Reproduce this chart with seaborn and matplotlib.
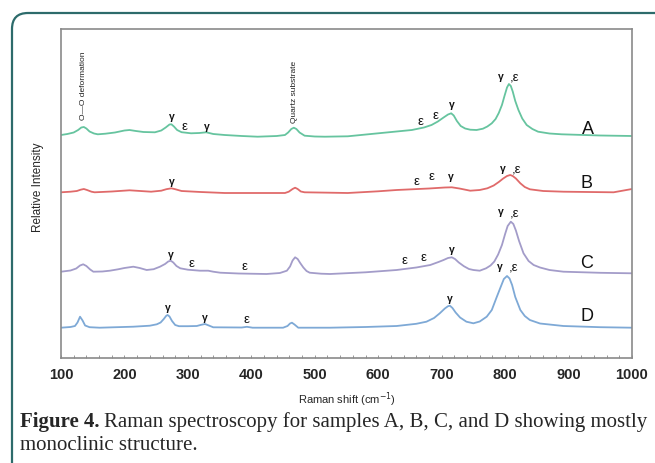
import pandas as pd
import seaborn as sns
import matplotlib.pyplot as plt
from matplotlib.patches import FancyBboxPatch
from matplotlib.ticker import MultipleLocator
from matplotlib.transforms import IdentityTransform

# spectra: (Raman shift cm-1, stacked relative intensity a.u.)
spec_a = [(100, 223), (110, 224), (120, 225.5), (127, 228), (132, 230.5), (136, 231), (140, 229.5), (145, 226.5),
          (152, 224.5), (158, 223.7), (170, 224.3), (185, 225.5), (200, 227.5), (208, 228), (218, 227), (230, 226),
          (248, 225.7), (258, 227.5), (265, 230.5), (271, 233.5), (274, 233.7), (278, 231.5), (283, 228), (290, 225.8),
          (305, 224.7), (318, 225), (329, 225.7), (340, 224), (358, 223), (385, 222), (410, 221.3), (440, 222),
          (453, 223), (458, 225.5), (463, 229), (467, 230.3), (471, 229), (476, 225.5), (484, 222.3), (500, 221.5),
          (516, 221.3), (552, 221.7), (600, 224.7), (653, 228), (672, 230.5), (684, 233), (694, 236.5), (703, 240.5),
          (710, 243.5), (715, 244.7), (719, 242.5), (724, 237), (730, 232), (737, 229.5), (745, 228.3), (755, 228),
          (765, 229.3), (772, 231.5), (779, 234.7), (785, 239), (790, 245), (795, 253), (799, 262), (803, 270.5),
          (806, 274), (809, 272), (812, 266.5), (816, 257), (821, 248), (827, 239.5), (834, 233), (843, 229),
          (852, 226.3), (870, 224.5), (889, 223.7), (950, 222.5), (1000, 222)]
spec_b = [(100, 165.7), (115, 166.3), (125, 167), (131, 168.3), (136, 169), (141, 168), (148, 166.3), (153, 165.7),
          (180, 166.5), (208, 167.7), (242, 166.3), (258, 167.3), (266, 168.8), (274, 169.7), (280, 168.8), (290, 167),
          (320, 166), (358, 165), (420, 165), (453, 165), (459, 166.3), (465, 169), (469, 170.3), (473, 169),
          (478, 166.5), (484, 165.7), (524, 165.3), (552, 165), (600, 166.7), (629, 168), (680, 169.5), (705, 170.5),
          (716, 170.7), (728, 169.5), (745, 167.3), (760, 168), (772, 169.7), (782, 172.5), (790, 176), (797, 179.5),
          (803, 182), (808, 183), (812, 182), (817, 179.5), (824, 174.7), (831, 171), (839, 168.7), (860, 167),
          (892, 166.3), (971, 165.7), (1000, 169)]
spec_c = [(100, 86.3), (115, 87.5), (124, 89.5), (130, 92.5), (135, 93.7), (140, 92), (146, 88.5), (151, 86.3),
          (165, 86.5), (177, 87.3), (190, 88.7), (200, 90), (214, 91.3), (224, 90), (235, 88), (246, 88.8),
          (256, 91.3), (264, 94), (269, 96.5), (273, 97.3), (277, 95.5), (282, 92), (288, 89.7), (300, 88.3),
          (319, 87.3), (332, 87.3), (340, 86.3), (351, 85.3), (380, 84.5), (424, 84), (445, 85), (456, 87.3),
          (461, 91.5), (465, 97.5), (469, 100.7), (473, 99), (477, 95), (482, 90.5), (487, 87), (492, 85.3),
          (510, 84.3), (524, 84), (580, 85.7), (629, 88), (660, 90.5), (682, 93), (695, 96), (703, 98), (710, 100),
          (716, 100.7), (721, 99), (727, 95.5), (735, 91.8), (743, 89), (750, 88), (760, 87.3), (770, 89.7),
          (777, 92.5), (783, 96.5), (789, 103.5), (795, 113), (800, 124), (804, 132), (809, 136.3), (813, 134),
          (817, 127.5), (822, 117), (829, 104.7), (837, 97), (845, 93), (855, 90.5), (870, 88), (892, 86.3),
          (950, 85.2), (1000, 84.7)]
spec_d = [(100, 30.3), (115, 31), (122, 32), (126, 35.5), (130, 41.3), (134, 37.5), (138, 32.5), (145, 30.8),
          (161, 30.3), (214, 31.3), (240, 32.3), (251, 33.7), (257, 35.5), (262, 39), (266, 42.3), (268, 43),
          (271, 41.5), (275, 37), (280, 33), (286, 31.8), (300, 31.8), (314, 32), (321, 33.2), (327, 34), (333, 32.5),
          (340, 30.7), (385, 30.5), (393, 31.2), (402, 30.3), (450, 30.3), (457, 32), (461, 34.5), (464, 35.3),
          (468, 33.5), (474, 30.3), (524, 30.3), (580, 31), (629, 32), (660, 34.2), (676, 36.3), (688, 40),
          (697, 44.7), (705, 49.5), (710, 51.8), (713, 52.3), (717, 50), (722, 45.5), (729, 40.5), (739, 36.3),
          (750, 34.7), (760, 36.5), (771, 41.3), (779, 48), (787, 61.3), (793, 71), (798, 79), (803, 82),
          (807, 79.5), (811, 73), (816, 61), (824, 48), (831, 42), (839, 38), (855, 34.5), (892, 32), (950, 30.8),
          (1000, 30.3)]

samples = ["A", "B", "C", "D"]
colors = ["#66c49f", "#e06a6a", "#a39cc9", "#7ea9d6"]

# peak labels: x, y
gamma_x = [274, 330, 716, 794, 274, 714, 797, 273, 716, 794, 269, 327, 713, 792]
gamma_y = [241, 231, 253, 281, 175.7, 181.3, 189, 103, 108, 146, 49.7, 39.7, 58.7, 91]
eps_x = [295, 666, 691, 815, 660, 684, 818, 306, 390, 641, 671, 815, 393, 813]
eps_y = [231, 236.3, 242, 280, 176.3, 181.3, 188.5, 94, 91.3, 97.3, 99.7, 145, 38, 90]
sample_label_x = [931, 929, 929, 929]
sample_label_y = [228, 174.7, 94, 41.3]

df = pd.concat([
    pd.DataFrame({"shift": [p[0] for p in spec], "intensity": [p[1] for p in spec], "sample": s})
    for spec, s in zip([spec_a, spec_b, spec_c, spec_d], samples)
])

sns.set_style("white")
plt.rcParams["font.family"] = ["Liberation Sans", "DejaVu Sans"]

fig = plt.figure(figsize=(6.55, 4.63), dpi=100)
ax = fig.add_axes([61 / 655, 1 - 358 / 463, 571 / 655, 329 / 463])

sns.lineplot(data=df, x="shift", y="intensity", hue="sample", palette=colors,
             estimator=None, sort=False, linewidth=1.3, legend=False, ax=ax)

ax.set_xlim(100, 1000)
ax.set_ylim(0, 329)
ax.set_yticks([])
ax.set_ylabel("Relative Intensity", fontsize=8.5)
ax.yaxis.set_label_coords(-0.03, 0.52)
ax.set_xlabel("Raman shift (cm$^{-1}$)", fontsize=8, labelpad=6)
ax.xaxis.set_major_locator(MultipleLocator(100))
ax.xaxis.set_minor_locator(MultipleLocator(20))
ax.tick_params(axis="x", which="both", direction="in", length=2.5, width=0.6,
               color="#888888", labelsize=10.5, pad=7, bottom=True)
for lbl in ax.get_xticklabels():
    lbl.set_fontweight("bold")
for sp in ax.spines.values():
    sp.set_color("#8a8a8a")
    sp.set_linewidth(1.2)

for x, y in zip(gamma_x, gamma_y):
    ax.text(x, y, "\u03b3", fontsize=7.5, fontweight="bold", ha="center", va="center", color="#111111")
for x, y in zip(eps_x, eps_y):
    # the ε that follows a γ at the main band carries a comma
    txt = ",\u03b5" if x > 790 else "\u03b5"
    ax.text(x, y, txt, fontsize=9.5, ha="center", va="center", color="#111111")
for s, x, y in zip(samples, sample_label_x, sample_label_y):
    ax.text(x, y, s, fontsize=13, ha="center", va="center", color="#111111")

ax.text(136, 238, "O\u2014O deformation", rotation=90, fontsize=6, ha="center", va="bottom", color="#222222")
ax.text(468, 235, "Quartz substrate", rotation=90, fontsize=6, ha="center", va="bottom", color="#222222")

# rounded frame of the figure panel
frame = FancyBboxPatch((12, -60), 720, 60 + 463 - 13, boxstyle="round,pad=0,rounding_size=16",
                       transform=IdentityTransform(), fill=False, edgecolor="#2d6b6b", linewidth=1.6)
fig.add_artist(frame)

serif = ["Liberation Serif", "DejaVu Serif"]
t1 = fig.text(20 / 655, 1 - 427 / 463, "Figure 4.", fontsize=15, fontweight="bold", family=serif, va="baseline")
fig.canvas.draw()
bb = t1.get_window_extent()
fig.text((bb.x1 + 4) / 655, 1 - 427 / 463, "Raman spectroscopy for samples A, B, C, and D showing mostly",
         fontsize=15, family=serif, va="baseline")
fig.text(20 / 655, 1 - 450 / 463, "monoclinic structure.", fontsize=15, family=serif, va="baseline")

fig.savefig("out.png", dpi=100)
